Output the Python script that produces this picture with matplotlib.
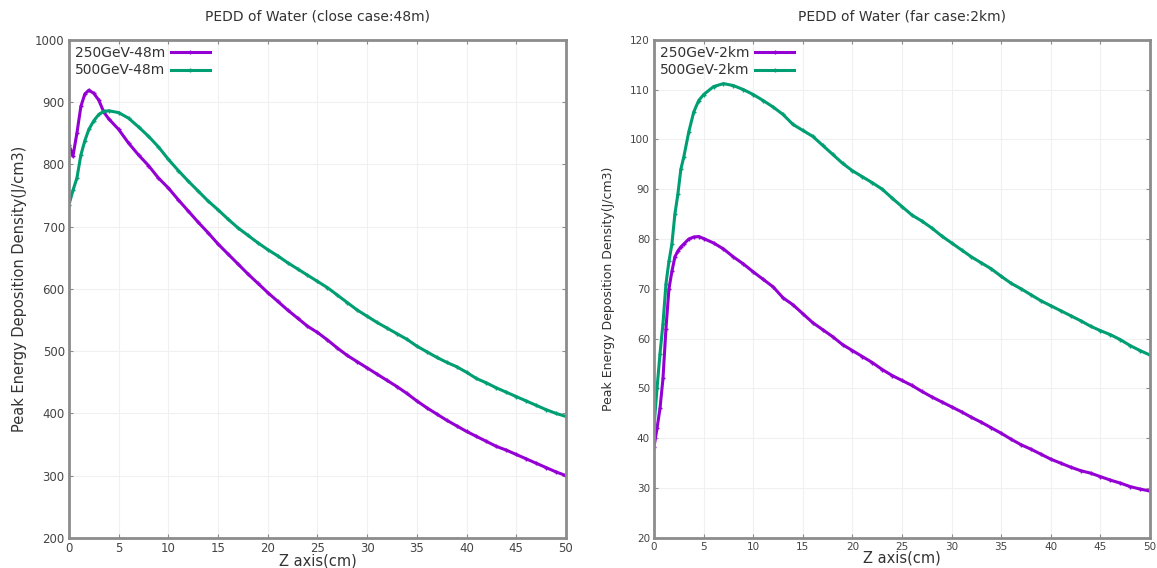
import matplotlib
matplotlib.use("Agg")
import matplotlib.pyplot as plt
import numpy as np

# close case (48m)
z_close = [0, 0.4, 0.8, 1.2, 1.6, 2, 2.5, 3, 3.5, 4] + list(range(5, 51))
pedd_250_close = [831, 813, 850, 893, 913, 919, 914, 903, 884, 873,
                  856, 834, 815, 798, 778, 762, 743, 725, 707, 690,
                  672, 656, 640, 624, 609, 594, 580, 566, 553, 540,
                  530, 518, 505, 493, 483, 473, 463, 453, 443, 432,
                  420, 409, 399, 389, 380, 371, 363, 355, 347, 341,
                  334, 327, 320, 313, 306, 300]
pedd_500_close = [735, 758, 778, 815, 838, 856, 870, 880, 885, 886,
                  883, 874, 860, 845, 828, 808, 790, 773, 757, 741,
                  727, 712, 698, 686, 674, 663, 653, 642, 632, 622,
                  612, 602, 590, 578, 566, 556, 546, 537, 528, 519,
                  508, 499, 490, 482, 475, 466, 456, 449, 441, 434,
                  427, 420, 413, 406, 400, 395]

# far case (2km)
z_far = [0, 0.3, 0.6, 0.9, 1.2, 1.5, 1.8, 2.1, 2.4, 2.7, 3, 3.5, 4, 4.5] + list(range(5, 51))
pedd_250_far = [38.3, 42, 46, 52, 62, 70, 73.5, 76.4, 77.6, 78.4, 79, 80, 80.4, 80.5,
                80.1, 79.2, 78, 76.4, 75, 73.4, 71.9, 70.4, 68.2, 66.8,
                65, 63.2, 61.8, 60.4, 58.8, 57.6, 56.4, 55.2, 53.8, 52.6,
                51.6, 50.6, 49.4, 48.3, 47.3, 46.3, 45.3, 44.2, 43.2, 42.1,
                41, 39.8, 38.7, 37.8, 36.8, 35.8, 35, 34.2, 33.5, 33,
                32.3, 31.6, 31, 30.3, 29.8, 29.4]
pedd_500_far = [42.6, 50, 57, 63, 71, 75.5, 79, 85, 89, 94, 96.5, 101.5, 105.5, 107.8,
                109, 110.6, 111.2, 110.8, 110, 109, 107.8, 106.5, 105, 103,
                101.8, 100.6, 98.8, 97, 95.2, 93.7, 92.5, 91.3, 90, 88.2,
                86.5, 84.8, 83.6, 82.2, 80.6, 79.2, 77.8, 76.4, 75.2, 74,
                72.5, 71.1, 70, 68.8, 67.6, 66.6, 65.6, 64.6, 63.6, 62.5,
                61.6, 60.8, 59.8, 58.6, 57.6, 56.7]

purple = "#9400d3"
green = "#009e73"
txt = "#333333"


def style_axes(ax, ylim, ystep):
    ax.set_xlim(0, 50)
    ax.set_ylim(*ylim)
    ax.set_xticks(np.arange(0, 51, 5))
    ax.set_yticks(np.arange(ylim[0], ylim[1] + 1, ystep))
    ax.grid(True, color="#f0f0f0", lw=0.8)
    ax.set_axisbelow(True)
    for s in ax.spines.values():
        s.set_color("#8c8c8c")
        s.set_linewidth(2)
    ax.tick_params(direction="in", length=3, width=0.8, color="#8c8c8c",
                   labelsize=8.5, labelcolor="#444444", top=True, right=True, pad=3)


fig = plt.figure(figsize=(11.57, 5.68), dpi=100)
ax1 = fig.add_axes([0.0596, 0.053, 0.4295, 0.877])
ax2 = fig.add_axes([0.5653, 0.053, 0.4287, 0.877])

ax1.plot(z_close, pedd_250_close, color=purple, lw=2.2, marker="+", ms=3, mew=1, label="250GeV-48m")
ax1.plot(z_close, pedd_500_close, color=green, lw=2.2, marker="+", ms=3, mew=1, label="500GeV-48m")
style_axes(ax1, (200, 1000), 100)
ax1.set_title("PEDD of Water (close case:48m)", fontsize=10, color=txt, pad=14)
ax1.set_ylabel("Peak Energy Deposition Density(J/cm3)", fontsize=10.5, color=txt, labelpad=6)
ax1.set_xlabel("Z axis(cm)", fontsize=10.5, color=txt, labelpad=-1)

ax2.plot(z_far, pedd_250_far, color=purple, lw=2.2, marker="+", ms=3, mew=1, label="250GeV-2km")
ax2.plot(z_far, pedd_500_far, color=green, lw=2.2, marker="+", ms=3, mew=1, label="500GeV-2km")
style_axes(ax2, (20, 120), 10)
ax2.tick_params(labelsize=7.5)
ax2.set_title("PEDD of Water (far case:2km)", fontsize=10, color=txt, pad=14)
ax2.set_ylabel("Peak Energy Deposition Density(J/cm3)", fontsize=9, color=txt, labelpad=11)
ax2.set_xlabel("Z axis(cm)", fontsize=10.5, color=txt, labelpad=-1)

for ax in (ax1, ax2):
    ax.legend(loc="upper left", markerfirst=False, frameon=False, fontsize=10,
              handlelength=2.8, handletextpad=0.4, borderaxespad=0.0,
              borderpad=0.45, labelspacing=0.25, labelcolor=txt)

fig.savefig("out.png", dpi=100)
